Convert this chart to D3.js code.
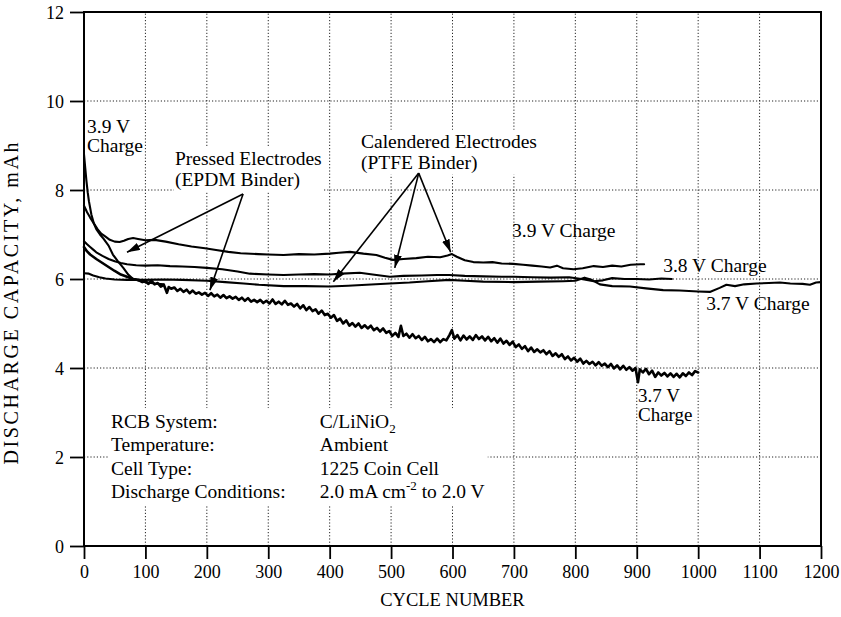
<!DOCTYPE html>
<html>
<head>
<meta charset="utf-8">
<script src="https://cdn.jsdelivr.net/npm/d3@7"></script>
<style>
  body { margin: 0; background: #fff; }
  svg { display: block; }
  text { font-family: "Liberation Serif", "Times New Roman", serif; fill: #000; }
</style>
</head>
<body>
<svg id="chart" width="841" height="617"></svg>
<script>
// ---- axis ticks ----
const xTicks = [0, 100, 200, 300, 400, 500, 600, 700, 800, 900, 1000, 1100, 1200];
const yTicks = [0, 2, 4, 6, 8, 10, 12];

// ---- discharge capacity (mAh) vs cycle number ----
// Pressed electrodes (EPDM binder), 3.9 V charge
const pressed39 = [[0,8.8],[2,8.5],[4,8.2],[6,7.95],[8,7.75],[12,7.45],[16,7.25],[20,7.12],[26,7.0],[32,6.9],
  [40,6.75],[47,6.55],[55,6.4],[64,6.25],[72,6.1],[80,6.0],[90,5.96],[100,5.93],[115,5.9],[130,5.88]];

// Pressed electrodes (EPDM binder), 3.7 V charge
const pressed37 = [[0,6.72],[5,6.62],[10,6.55],[15,6.5],[20,6.45],[30,6.36],[40,6.27],[50,6.18],[60,6.1],[70,6.05],
  [80,6.0],[88,5.98],[95,5.93],[100,5.95],[105,5.89],[110,5.96],[115,5.88],[120,5.91],[125,5.83],[130,5.87],
  [135,5.69],[138,5.82],[142,5.78],[147,5.81],[152,5.73],[157,5.78],[162,5.71],[167,5.76],[172,5.68],[177,5.74],
  [182,5.67],[187,5.7],[192,5.65],[197,5.69],[202,5.62],[207,5.68],[212,5.61],[217,5.65],[222,5.58],[227,5.64],
  [232,5.57],[237,5.61],[242,5.56],[247,5.6],[252,5.53],[257,5.58],[262,5.51],[267,5.57],[272,5.49],[277,5.53],
  [282,5.48],[287,5.53],[292,5.46],[297,5.51],[302,5.45],[307,5.54],[312,5.44],[317,5.49],[322,5.43],[327,5.51],
  [332,5.42],[337,5.45],[342,5.38],[347,5.44],[352,5.34],[357,5.41],[362,5.3],[367,5.37],[372,5.28],[377,5.32],
  [382,5.22],[387,5.29],[392,5.19],[397,5.22],[402,5.13],[407,5.19],[412,5.06],[417,5.11],[422,5.0],[427,5.07],
  [432,4.95],[437,5.01],[442,4.93],[447,5.0],[452,4.9],[457,4.96],[462,4.89],[467,4.95],[472,4.85],[477,4.9],
  [482,4.82],[487,4.89],[492,4.79],[497,4.83],[502,4.72],[507,4.79],[512,4.7],[516,4.95],[520,4.72],[525,4.77],
  [530,4.68],[535,4.76],[540,4.67],[545,4.72],[550,4.63],[555,4.7],[560,4.6],[565,4.65],[570,4.58],[575,4.66],
  [580,4.58],[585,4.65],[590,4.62],[595,4.74],[599,4.85],[603,4.66],[608,4.74],[613,4.62],[618,4.73],[623,4.64],
  [628,4.71],[633,4.63],[638,4.74],[643,4.65],[648,4.71],[653,4.62],[658,4.7],[663,4.6],[668,4.67],[673,4.57],
  [678,4.66],[683,4.55],[688,4.61],[693,4.52],[698,4.59],[703,4.47],[708,4.53],[713,4.43],[718,4.49],[723,4.38],
  [728,4.46],[733,4.36],[738,4.42],[743,4.35],[748,4.4],[753,4.31],[758,4.38],[763,4.27],[768,4.33],[773,4.25],
  [778,4.31],[783,4.2],[788,4.26],[793,4.17],[798,4.23],[803,4.14],[808,4.21],[813,4.1],[818,4.16],[823,4.09],
  [828,4.14],[833,4.06],[838,4.13],[843,4.05],[848,4.1],[853,4.02],[858,4.09],[863,3.99],[868,4.06],[873,3.97],
  [878,4.05],[883,3.96],[888,4.02],[893,3.94],[898,4.0],[902,3.68],[905,3.97],[910,3.9],[915,3.98],[920,3.86],
  [925,3.94],[930,3.8],[935,3.9],[940,3.83],[945,3.89],[950,3.81],[955,3.88],[960,3.8],[965,3.87],[970,3.79],
  [975,3.88],[980,3.82],[985,3.9],[990,3.84],[995,3.93],[1000,3.9]];

// Calendered electrodes (PTFE binder), 3.9 V charge
const calendered39 = [[0,7.65],[5,7.5],[10,7.38],[16,7.25],[22,7.12],[28,7.02],[35,6.95],[42,6.88],[50,6.84],[58,6.83],
  [65,6.86],[72,6.9],[80,6.92],[88,6.9],[100,6.87],[115,6.88],[133,6.84],[154,6.78],[175,6.73],[197,6.69],
  [215,6.65],[235,6.61],[255,6.58],[284,6.56],[300,6.55],[325,6.54],[350,6.56],[375,6.55],[400,6.57],[415,6.59],
  [433,6.61],[455,6.57],[476,6.54],[490,6.48],[503,6.43],[520,6.45],[541,6.47],[560,6.5],[580,6.49],[592,6.53],
  [599,6.56],[607,6.5],[620,6.42],[634,6.38],[650,6.37],[665,6.38],[680,6.35],[699,6.34],[715,6.32],[730,6.3],
  [745,6.28],[759,6.26],[770,6.3],[780,6.24],[797,6.22],[812,6.24],[830,6.29],[845,6.27],[860,6.3],[875,6.28],
  [890,6.32],[906,6.33],[912,6.33]];

// Calendered electrodes (PTFE binder), 3.8 V charge
const calendered38 = [[0,6.85],[5,6.78],[10,6.72],[15,6.66],[20,6.6],[30,6.52],[40,6.45],[50,6.4],[60,6.36],[70,6.33],
  [85,6.31],[100,6.3],[120,6.31],[140,6.29],[160,6.28],[180,6.27],[200,6.25],[225,6.22],[250,6.17],[270,6.12],
  [300,6.1],[325,6.09],[350,6.1],[375,6.11],[400,6.1],[420,6.12],[449,6.14],[470,6.1],[498,6.05],[520,6.07],
  [550,6.08],[575,6.09],[595,6.09],[620,6.07],[650,6.06],[680,6.05],[700,6.05],[730,6.04],[760,6.03],[790,6.04],
  [810,6.0],[830,5.95],[845,5.97],[860,6.02],[880,6.0],[900,6.0],[920,5.99],[940,6.01],[957,6.0]];

// Calendered electrodes (PTFE binder), 3.7 V charge
const calendered37 = [[0,6.13],[8,6.12],[15,6.08],[25,6.04],[35,6.01],[50,5.99],[70,5.98],[100,5.98],[130,5.99],[160,5.98],
  [200,5.96],[230,5.93],[260,5.9],[285,5.87],[325,5.84],[360,5.84],[400,5.83],[430,5.85],[460,5.87],[498,5.9],
  [530,5.92],[560,5.95],[595,5.98],[620,5.96],[650,5.94],[700,5.93],[740,5.94],[780,5.95],[800,5.96],[815,6.03],
  [825,5.99],[840,5.88],[860,5.84],[889,5.83],[915,5.79],[943,5.75],[970,5.74],[1000,5.72],[1019,5.71],[1035,5.8],
  [1046,5.87],[1060,5.84],[1075,5.88],[1095,5.9],[1115,5.91],[1133,5.92],[1150,5.9],[1170,5.89],[1182,5.87],
  [1192,5.92],[1200,5.93]];

// ---- info block ----
const infoLabels = ["RCB System:", "Temperature:", "Cell Type:", "Discharge Conditions:"];
const infoValues = [
  [["C/LiNiO", ""], ["2", "sub"]],
  [["Ambient", ""]],
  [["1225 Coin Cell", ""]],
  [["2.0 mA cm", ""], ["-2", "sup"], [" to 2.0 V", ""]]
];

const svg = d3.select("#chart");
const W = 841, H = 617;
const margin = { left: 84, right: 20, top: 12, bottom: 71 };

const x = d3.scaleLinear().domain([0, 1200]).range([margin.left, W - margin.right]);
const y = d3.scaleLinear().domain([0, 12]).range([H - margin.bottom, margin.top]);

// dotted grid
const grid = svg.append("g").attr("stroke", "#222").attr("stroke-width", 1).attr("stroke-dasharray", "1.2,2");
grid.selectAll("line.v").data(xTicks.slice(1, -1)).join("line")
  .attr("x1", d => x(d)).attr("x2", d => x(d)).attr("y1", y(0)).attr("y2", y(12));
grid.selectAll("line.h").data(yTicks.slice(1, -1)).join("line")
  .attr("y1", d => y(d)).attr("y2", d => y(d)).attr("x1", x(0)).attr("x2", x(1200));

// curves
const line = d3.line().x(d => x(d[0])).y(d => y(d[1]));
const series = [
  { data: calendered39, w: 2.1 },
  { data: calendered38, w: 2.1 },
  { data: calendered37, w: 2.1 },
  { data: pressed39, w: 2.1 },
  { data: pressed37, w: 2.6 }
];
svg.append("g").selectAll("path").data(series).join("path")
  .attr("d", d => line(d.data))
  .attr("fill", "none").attr("stroke", "#000")
  .attr("stroke-width", d => d.w)
  .attr("stroke-linejoin", "round").attr("stroke-linecap", "round");

// arrow marker
svg.append("defs").append("marker")
  .attr("id", "head").attr("markerUnits", "userSpaceOnUse")
  .attr("markerWidth", 14).attr("markerHeight", 10)
  .attr("refX", 13).attr("refY", 4).attr("orient", "auto")
  .append("path").attr("d", "M0,0 L13,4 L0,8 Z").attr("fill", "#000");

function textBlock(g, lines, px, py, size, lh) {
  const t = g.append("text").attr("x", px).attr("y", py).attr("font-size", size);
  lines.forEach((s, i) => t.append("tspan").attr("x", px).attr("dy", i ? lh : 0).text(s));
  return t;
}
function withBackground(g, pad) {
  const bb = g.node().getBBox();
  g.insert("rect", ":first-child")
    .attr("x", bb.x - pad).attr("y", bb.y - pad)
    .attr("width", bb.width + 2 * pad).attr("height", bb.height + 2 * pad)
    .attr("fill", "#fff");
}

const ann = svg.append("g");

// electrode labels with arrows
const pressedLabel = ann.append("g");
textBlock(pressedLabel, ["Pressed Electrodes", "(EPDM Binder)"], x(148), y(8.56), 19.5, 21);
withBackground(pressedLabel, 1);
const calLabel = ann.append("g");
textBlock(calLabel, ["Calendered Electrodes", "(PTFE Binder)"], x(451), y(8.95), 19.5, 21);
withBackground(calLabel, 1);

const arrows = [
  { from: [259, 7.91], to: [70, 6.6] },
  { from: [259, 7.91], to: [205, 5.75] },
  { from: [545, 8.38], to: [406, 5.94] },
  { from: [545, 8.38], to: [506, 6.25] },
  { from: [545, 8.38], to: [597, 6.6] }
];
ann.append("g").selectAll("line").data(arrows).join("line")
  .attr("x1", d => x(d.from[0])).attr("y1", d => y(d.from[1]))
  .attr("x2", d => x(d.to[0])).attr("y2", d => y(d.to[1]))
  .attr("stroke", "#000").attr("stroke-width", 1.6)
  .attr("marker-end", "url(#head)");

// charge-voltage labels
textBlock(ann, ["3.9 V", "Charge"], x(5), y(9.28), 19.5, 19);
textBlock(ann, ["3.9 V Charge"], x(697), y(6.94), 19.5, 0);
textBlock(ann, ["3.8 V Charge"], x(943), y(6.16), 19.5, 0);
textBlock(ann, ["3.7 V Charge"], x(1013), y(5.3), 19.5, 0);
textBlock(ann, ["3.7 V", "Charge"], x(902), y(3.23), 19, 19);

// info block
const info = svg.append("g");
const infoTop = y(2.65), infoStep = 23.3;
infoLabels.forEach((s, i) => {
  info.append("text").attr("x", x(44)).attr("y", infoTop + i * infoStep).attr("font-size", 19.5).text(s);
});
infoValues.forEach((parts, i) => {
  const t = info.append("text").attr("x", x(384)).attr("y", infoTop + i * infoStep).attr("font-size", 19.5);
  let shift = 0;
  parts.forEach(([s, kind]) => {
    const target = kind === "sub" ? 5 : kind === "sup" ? -8 : 0;
    const sp = t.append("tspan").attr("dy", target - shift).text(s);
    if (kind) sp.attr("font-size", 13);
    shift = target;
  });
});
withBackground(info, 3);

// frame
svg.append("rect")
  .attr("x", x(0)).attr("y", y(12)).attr("width", x(1200) - x(0)).attr("height", y(0) - y(12))
  .attr("fill", "none").attr("stroke", "#000").attr("stroke-width", 2);

// axes
const xAxis = svg.append("g").attr("transform", `translate(0,${y(0)})`)
  .call(d3.axisBottom(x).tickValues(xTicks).tickFormat(d3.format("d")).tickSize(13).tickPadding(6));
const yAxis = svg.append("g").attr("transform", `translate(${x(0)},0)`)
  .call(d3.axisLeft(y).tickValues(yTicks).tickFormat(d3.format("d")).tickSize(14).tickPadding(6));
[xAxis, yAxis].forEach(a => {
  a.select(".domain").remove();
  a.selectAll(".tick line").attr("stroke", "#000").attr("stroke-width", 1.8);
  a.selectAll(".tick text").attr("font-family", "Liberation Serif, serif").attr("font-size", 18).attr("fill", "#000");
});
yAxis.selectAll(".tick text").attr("dy", "0.34em");

// axis titles
svg.append("text").attr("x", (x(0) + x(1200)) / 2).attr("y", 606)
  .attr("text-anchor", "middle").attr("font-size", 18.5).text("CYCLE NUMBER");
svg.append("text")
  .attr("transform", `translate(18,${y(5.45)}) rotate(-90)`)
  .attr("text-anchor", "middle").attr("font-size", 20)
  .attr("textLength", 322).attr("lengthAdjust", "spacing")
  .text("DISCHARGE CAPACITY, mAh");
</script>
</body>
</html>
